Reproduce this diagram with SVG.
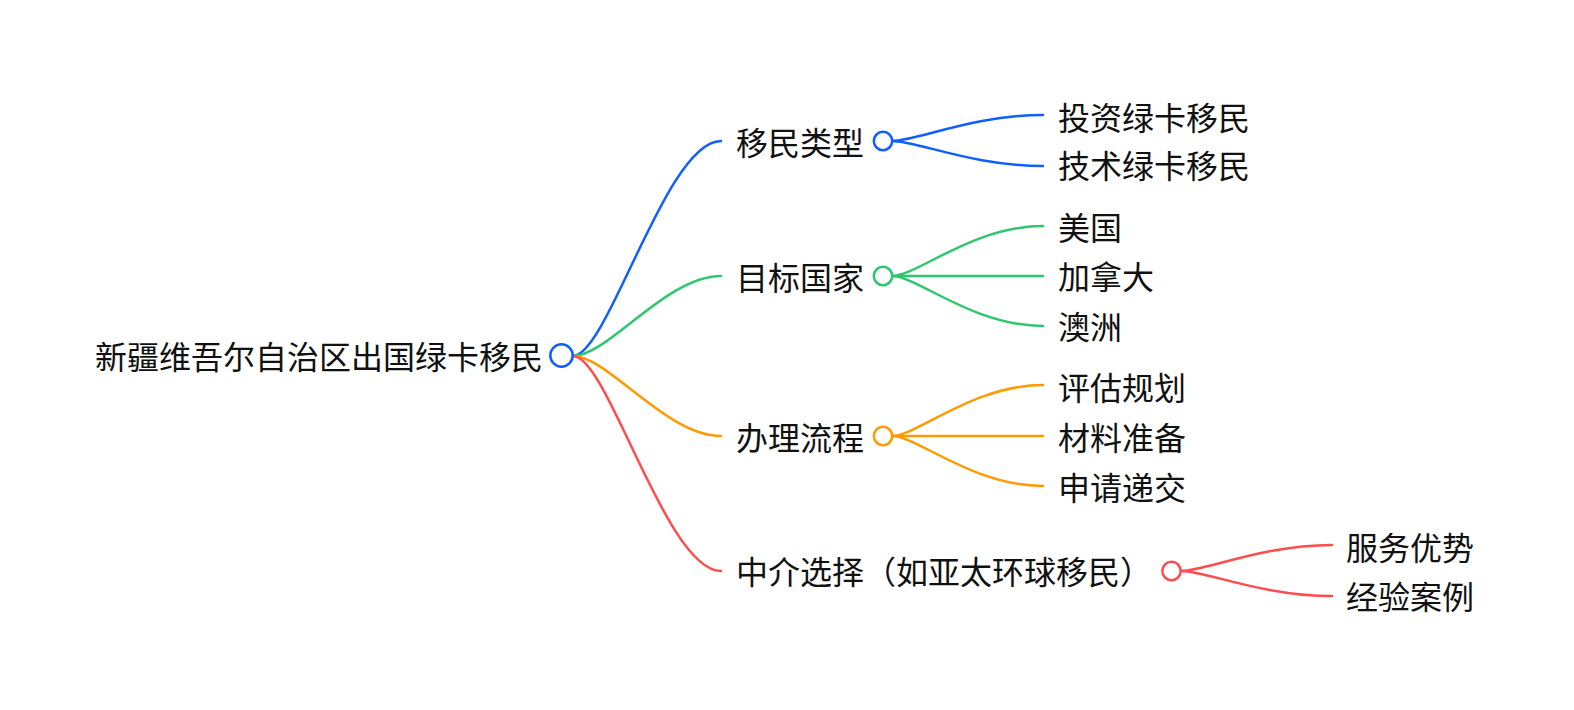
<svg xmlns="http://www.w3.org/2000/svg" width="1574" height="710" viewBox="0 0 1574 710">
<style>
text{font-family:"Noto Sans CJK SC","Noto Sans",sans-serif;font-size:32px;fill:#111}
.l{fill:none;stroke-width:2.5;stroke-linecap:round}
.c{fill:#fff;stroke-width:2.5}
.b{stroke:#0f5fff}.g{stroke:#2dc76d}.o{stroke:#ff9a00}.r{stroke:#ff4d4f}
</style>
<rect width="1574" height="710" fill="#fff"/>
<g id="connectors">
<path class="l b" d="M573 356 C608 356 666 141 721 141"/>
<path class="l g" d="M573 356 C608 356 666 276 721 276"/>
<path class="l o" d="M573 356 C608 356 666 436 721 436"/>
<path class="l r" d="M573 356 C608 356 666 571 721 571"/>
<path class="l b" d="M892 141 C917 141 973 115 1043 115"/>
<path class="l b" d="M892 141 C917 141 973 166 1043 166"/>
<path class="l g" d="M892 276 C917 276 973 226 1043 226"/>
<path class="l g" d="M892 276 L1043 276"/>
<path class="l g" d="M892 276 C917 276 973 326 1043 326"/>
<path class="l o" d="M892 436 C917 436 973 385 1043 385"/>
<path class="l o" d="M892 436 L1043 436"/>
<path class="l o" d="M892 436 C917 436 973 486 1043 486"/>
<path class="l r" d="M1181 571 C1206 571 1262 545 1332 545"/>
<path class="l r" d="M1181 571 C1206 571 1262 596 1332 596"/>
</g>
<g id="root">
<text x="95" y="369">新疆维吾尔自治区出国绿卡移民</text>
<circle class="c b" cx="561.5" cy="355.5" r="11.2" stroke-width="2.8"/>
</g>
<g id="n1">
<text x="736" y="154.5">移民类型</text>
<circle class="c b" cx="883" cy="141" r="9.2"/>
</g>
<g id="n2">
<text x="736" y="289.5">目标国家</text>
<circle class="c g" cx="883" cy="276" r="9.2"/>
</g>
<g id="n3">
<text x="736" y="449.5">办理流程</text>
<circle class="c o" cx="883" cy="436" r="9.2"/>
</g>
<g id="n4">
<text x="736" y="583.5">中介选择（如亚太环球移民）</text>
<circle class="c r" cx="1171.5" cy="571" r="9.2"/>
</g>
<g id="n1a"><text x="1058" y="129.5">投资绿卡移民</text></g>
<g id="n1b"><text x="1058" y="178">技术绿卡移民</text></g>
<g id="n2a"><text x="1058" y="239.5">美国</text></g>
<g id="n2b"><text x="1058" y="288.5">加拿大</text></g>
<g id="n2c"><text x="1058" y="338.5">澳洲</text></g>
<g id="n3a"><text x="1058" y="399.5">评估规划</text></g>
<g id="n3b"><text x="1058" y="449.5">材料准备</text></g>
<g id="n3c"><text x="1058" y="499.5">申请递交</text></g>
<g id="n4a"><text x="1346" y="559.5">服务优势</text></g>
<g id="n4b"><text x="1346" y="608.5">经验案例</text></g>
</svg>
